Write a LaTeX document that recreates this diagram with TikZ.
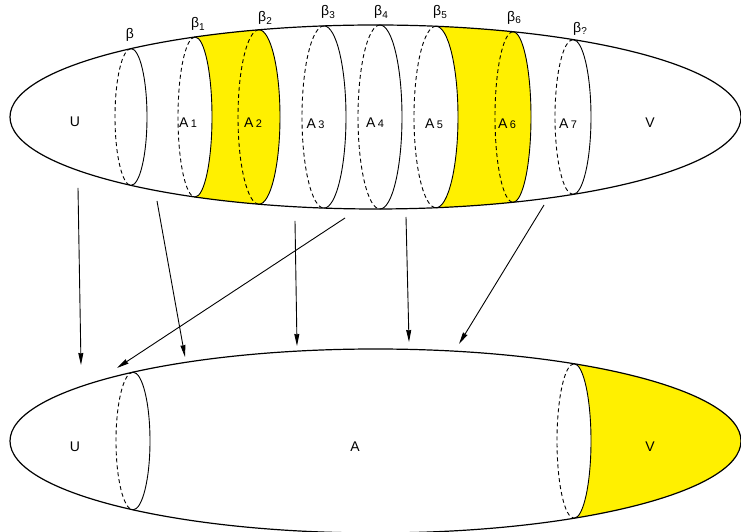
\documentclass[tikz,border=0pt]{standalone}
\usepackage{fontspec}
\setmainfont{Liberation Sans}
\usetikzlibrary{arrows.meta}
\definecolor{hl}{RGB}{255,240,0}
\newcommand\bsub[1]{β\raisebox{-2.5pt}{\fontsize{10}{11}\selectfont #1}}
\newcommand\asub[1]{A\kern2.5pt{\fontsize{11}{12}\selectfont #1}}
% rim: x, half width, centre y
\newcommand\rimat[3]{%
  \pgfmathsetmacro\rh{92*sqrt(1-((#1-375.5)/365.5)^2)}%
  \draw[rimline] ({#1},{#3+\rh}) arc[start angle=90,end angle=-90,x radius=#2,y radius=\rh];
  \draw[rimline,rimdash] ({#1},{#3+\rh}) arc[start angle=90,end angle=270,x radius=#2,y radius=\rh];
}
\tikzset{
  rimline/.style={line width=0.9pt},
  rimdash/.style={dash pattern=on 4pt off 3pt},
  outer/.style={line width=1.2pt},
  lbl/.style={inner sep=0pt,font=\fontsize{14}{16}\selectfont},
  arr/.style={-{Stealth[length=12pt,width=5pt,inset=0.5pt]},line width=0.9pt},
}
\begin{document}
\begin{tikzpicture}[x=1pt,y=1pt]
\useasboundingbox (0,0) rectangle (741,532);
% ---------- top surface ----------
\begin{scope}
\clip (375.5,415) ellipse[x radius=365.5,y radius=92];
\pgfmathsetmacro\ha{92*sqrt(1-((195-375.5)/365.5)^2)}
\pgfmathsetmacro\hb{92*sqrt(1-((259-375.5)/365.5)^2)}
\fill[hl] (195,600) -- (195,{415+\ha}) arc[start angle=90,end angle=-90,x radius=17,y radius=\ha]
  -- (195,300) -- (259,300) -- (259,{415-\hb}) arc[start angle=-90,end angle=90,x radius=21,y radius=\hb]
  -- (259,600) -- cycle;
\pgfmathsetmacro\hc{92*sqrt(1-((436-375.5)/365.5)^2)}
\pgfmathsetmacro\hd{92*sqrt(1-((513-375.5)/365.5)^2)}
\fill[hl] (436,600) -- (436,{415+\hc}) arc[start angle=90,end angle=-90,x radius=22,y radius=\hc]
  -- (436,300) -- (513,300) -- (513,{415-\hd}) arc[start angle=-90,end angle=90,x radius=18,y radius=\hd]
  -- (513,600) -- cycle;
\end{scope}
\rimat{131}{16}{415}
\rimat{195}{17}{415}
\rimat{259}{21}{415}
\rimat{324}{22}{415}
\rimat{380}{22}{415}
\rimat{436}{22}{415}
\rimat{513}{18}{415}
\rimat{573}{18}{415}
\draw[outer] (375.5,415) ellipse[x radius=365.5,y radius=92];
% ---------- bottom surface ----------
\begin{scope}
\clip (375.5,91) ellipse[x radius=365.5,y radius=92];
\pgfmathsetmacro\he{92*sqrt(1-((574-375.5)/365.5)^2)}
\fill[hl] (574,220) -- (574,{91+\he}) arc[start angle=90,end angle=-90,x radius=17,y radius=\he]
  -- (574,-20) -- (760,-20) -- (760,220) -- cycle;
\end{scope}
\rimat{133}{17}{91}
\rimat{574}{17}{91}
\draw[outer] (375.5,91) ellipse[x radius=365.5,y radius=92];
% ---------- labels ----------
\node[lbl] (tU) at (75,410) {U};
\node[lbl] (tA1) at (188,409) {\asub{1}};
\node[lbl] (tA2) at (253,409) {\asub{2}};
\node[lbl] (tA3) at (315.5,408) {\asub{3}};
\node[lbl] (tA4) at (375,409) {\asub{4}};
\node[lbl] (tA5) at (434,408) {\asub{5}};
\node[lbl] (tA6) at (507,408) {\asub{6}};
\node[lbl] (tA7) at (568,408) {\asub{7}};
\node[lbl] (tV) at (650,409) {V};
\node[lbl] (b0) at (130,497) {β};
\node[lbl] (b1) at (198,508) {\bsub{1}};
\node[lbl] (b2) at (265,514) {\bsub{2}};
\node[lbl] (b3) at (328,520) {\bsub{3}};
\node[lbl] (b4) at (381,520) {\bsub{4}};
\node[lbl] (b5) at (440,520) {\bsub{5}};
\node[lbl] (b6) at (514,514.5) {\bsub{6}};
\node[lbl] (b7) at (580,503.5) {\bsub{?}};
\node[lbl] (bU) at (75,85) {U};
\node[lbl] (bA) at (355,85) {A};
\node[lbl] (bV) at (650,85) {V};
% ---------- arrows ----------
\coordinate (s1) at (78,344);  \coordinate (e1) at (81,167);
\coordinate (s2) at (157,331); \coordinate (e2) at (185,175);
\coordinate (s3) at (345,314); \coordinate (e3) at (117,164);
\coordinate (s4) at (295,311); \coordinate (e4) at (297,186);
\coordinate (s5) at (406,315); \coordinate (e5) at (409,190);
\coordinate (s6) at (544,327); \coordinate (e6) at (459,188);
\foreach \i in {1,...,6} \draw[arr] (s\i) -- (e\i);
\end{tikzpicture}
\end{document}
